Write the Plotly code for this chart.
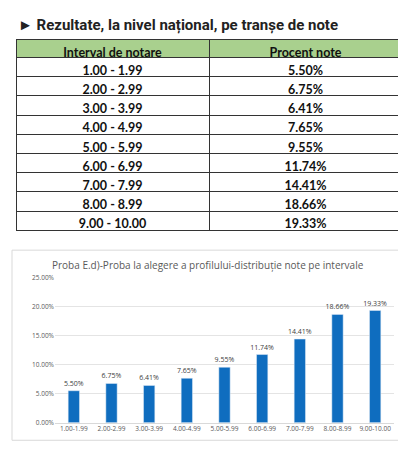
import plotly.graph_objects as go

intervals = ["1.00 - 1.99", "2.00 - 2.99", "3.00 - 3.99", "4.00 - 4.99", "5.00 - 5.99",
             "6.00 - 6.99", "7.00 - 7.99", "8.00 - 8.99", "9.00 - 10.00"]
bar_labels = ["1.00-1.99", "2.00-2.99", "3.00-3.99", "4.00-4.99", "5.00-5.99",
              "6.00-6.99", "7.00-7.99", "8.00-8.99", "9.00-10.00"]
percents = [5.50, 6.75, 6.41, 7.65, 9.55, 11.74, 14.41, 18.66, 19.33]

H = 450
W = 406


def py(v):
    return 1 - v / H


table = go.Table(
    domain=dict(x=[8 / W, 394 / W], y=[py(233), py(27)]),
    columnwidth=[1, 1],
    header=dict(values=["Interval de notare", "Procent note"],
                fill_color="#a9d08e", line_color="#333333",
                font=dict(family="Lato", size=12.5, color="#111111", weight="bold"),
                align="center", height=18),
    cells=dict(values=[intervals, [f"{p:.2f}%" for p in percents]],
               fill_color="white", line_color="#333333",
               font=dict(family="Lato", size=12.5, color="#111111", weight="bold"),
               align="center", height=19.2),
)

bars = go.Bar(
    x=bar_labels, y=[p / 100 for p in percents],
    marker_color="#0f6dbf", width=0.3,
    text=[f"{p:.2f}%" for p in percents], textposition="outside",
    constraintext="none",
    textfont=dict(size=7, color="#404040"), cliponaxis=False,
)

fig = go.Figure([table, bars])
fig.update_layout(
    width=W, height=H, margin=dict(l=0, r=0, t=0, b=0),
    paper_bgcolor="white", plot_bgcolor="white", showlegend=False,
    font=dict(family="Open Sans", color="#595959"),
    xaxis=dict(domain=[47 / W, 386 / W], tickfont=dict(size=6.5), showline=True,
               linecolor="#d9d9d9", ticks=""),
    yaxis=dict(domain=[py(418), py(270)], range=[0, 0.25], dtick=0.05,
               tickformat=".2%", tickfont=dict(size=6.5), gridcolor="#e4e4e4",
               zeroline=False),
    shapes=[dict(type="rect", xref="paper", yref="paper", x0=4 / W, x1=395 / W,
                 y0=py(436), y1=py(242), line=dict(color="#d9d9d9", width=1))],
    annotations=[
        dict(text="► Rezultate, la nivel național, pe tranșe de note", xref="paper",
             yref="paper", x=8 / W, y=py(12), xanchor="left", yanchor="middle",
             showarrow=False, font=dict(family="Roboto", size=15, color="#222222",
                                          weight="bold")),
        dict(text="Proba E.d)-Proba la alegere a profilului-distribuție note pe intervale",
             xref="paper", yref="paper", x=200 / W, y=py(257), xanchor="center",
             yanchor="middle", showarrow=False,
             font=dict(family="Open Sans", size=10, color="#595959")),
    ],
)
fig.write_html("out.html")
